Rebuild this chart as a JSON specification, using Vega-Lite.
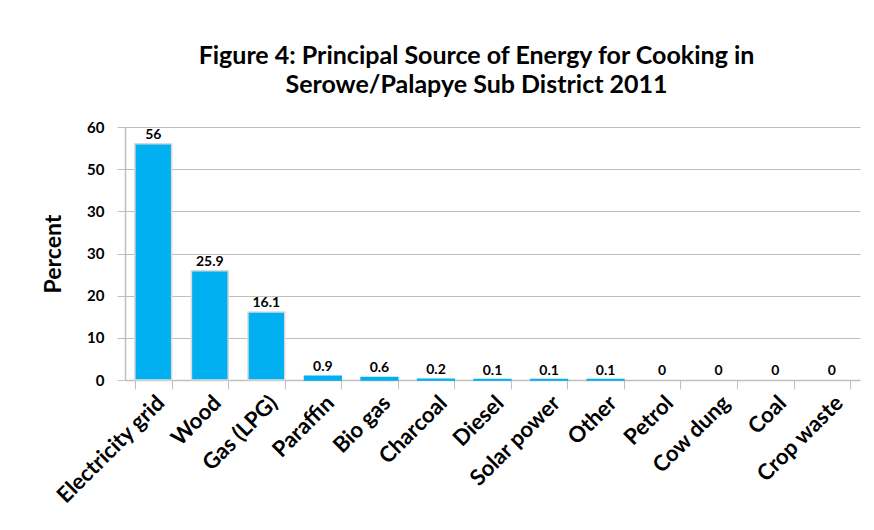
{
  "$schema": "https://vega.github.io/schema/vega-lite/v6.json",
  "width": 735,
  "height": 253,
  "autosize": {"type": "none"},
  "padding": {"left": 125, "top": 127, "right": 14, "bottom": 150},
  "background": "white",
  "title": {
    "text": ["Figure 4: Principal Source of Energy for Cooking in", "Serowe/Palapye Sub District 2011"],
    "font": "Lato",
    "fontSize": 25,
    "fontWeight": "bold",
    "color": "#000000",
    "lineHeight": 29,
    "offset": 22,
    "dx": -16,
    "anchor": "middle"
  },
  "data": {
    "values": [
      {"Source": "Electricity grid", "Percent": 56},
      {"Source": "Wood", "Percent": 25.9},
      {"Source": "Gas (LPG)", "Percent": 16.1},
      {"Source": "Paraffin", "Percent": 0.9},
      {"Source": "Bio gas", "Percent": 0.6},
      {"Source": "Charcoal", "Percent": 0.2},
      {"Source": "Diesel", "Percent": 0.1},
      {"Source": "Solar power", "Percent": 0.1},
      {"Source": "Other", "Percent": 0.1},
      {"Source": "Petrol", "Percent": 0},
      {"Source": "Cow dung", "Percent": 0},
      {"Source": "Coal", "Percent": 0},
      {"Source": "Crop waste", "Percent": 0}
    ]
  },
  "encoding": {
    "x": {
      "field": "Source",
      "type": "nominal",
      "sort": null,
      "scale": {"paddingInner": 0.35, "paddingOuter": 0.175},
      "axis": {
        "title": null,
        "labelAngle": -45,
        "labelAlign": "right",
        "labelBaseline": "top",
        "labelFont": "Lato",
        "labelFontSize": 22,
        "labelFontWeight": "bold",
        "labelColor": "#000000",
        "labelPadding": 3,
        "tickBand": "extent",
        "tickSize": 9,
        "tickColor": "#bfbfbf",
        "domainColor": "#bfbfbf",
        "domainWidth": 1.5,
        "labelOverlap": false
      }
    },
    "y": {
      "field": "Percent",
      "type": "quantitative",
      "scale": {"domain": [0, 60], "nice": false},
      "axis": {
        "title": "Percent",
        "titleFont": "Lato",
        "titleFontSize": 23,
        "titleFontWeight": "bold",
        "titleColor": "#000000",
        "titlePadding": 21,
        "values": [0, 10, 20, 30, 40, 50, 60],
        "labelExpr": "datum.value == 40 ? '30' : datum.label",
        "labelFont": "Lato",
        "labelFontSize": 15,
        "labelFontWeight": "bold",
        "labelColor": "#000000",
        "labelPadding": 13,
        "tickSize": 8,
        "tickColor": "#bfbfbf",
        "gridColor": "#bfbfbf",
        "gridWidth": 1.2,
        "domainColor": "#bfbfbf",
        "domainWidth": 1.5
      }
    }
  },
  "layer": [
    {
      "mark": {"type": "bar", "color": "#00b0f0"},
      "encoding": {
        "stroke": {
          "condition": {"test": "datum.Percent >= 5", "value": "#d9d9d9"},
          "value": "#00b0f0"
        },
        "strokeWidth": {
          "condition": {"test": "datum.Percent > 0", "value": 1.5},
          "value": 0
        }
      }
    },
    {
      "mark": {
        "type": "text",
        "baseline": "alphabetic",
        "dy": -5,
        "font": "Lato",
        "fontSize": 14,
        "fontWeight": "bold",
        "color": "#000000"
      },
      "encoding": {
        "text": {"field": "Percent", "type": "quantitative"}
      }
    }
  ],
  "config": {
    "view": {"stroke": null},
    "axis": {"gridDash": []}
  }
}
